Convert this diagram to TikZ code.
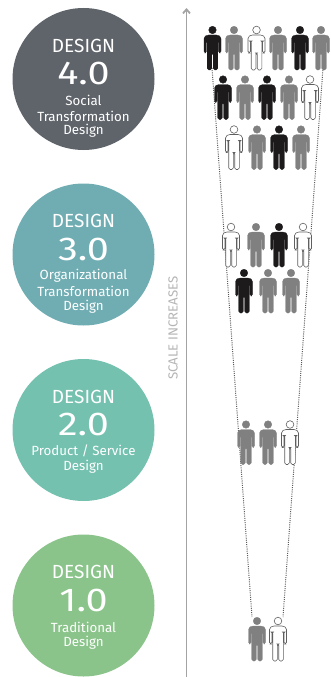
\documentclass[tikz,border=0pt]{standalone}
\usepackage{fontspec}
\setmainfont{Fira Sans}
\usetikzlibrary{arrows.meta}
\definecolor{designfour}{HTML}{5F646B}
\definecolor{designthree}{HTML}{6FADB3}
\definecolor{designtwo}{HTML}{75C1B0}
\definecolor{designone}{HTML}{8AC48A}
\definecolor{scalegrey}{HTML}{A3A3A3}
\definecolor{mangrey}{HTML}{808080}
\definecolor{manblack}{HTML}{1C1A1A}
\tikzset{
  design/.style = {circle, inner sep = 0, minimum size = 142pt},
  titletext/.style = {text = white, inner sep = 0, font = \fontsize{19}{19}\selectfont},
  numtext/.style = {text = white, inner sep = 0, xscale = 1.2, font = \fontsize{33}{33}\selectfont},
  subtext/.style = {text = white, inner sep = 0, font = \fontsize{13.3}{14}\selectfont},
  person/.pic = {
    \path [pic actions] (0,4) circle (3.8);
    \path [pic actions, rounded corners = 1.6]
      (-5.5,9) -- (5.5,9) -- (8.5,11) -- (8.5,27) -- (6.1,27) -- (6.1,15) -- (5.3,15)
      -- (5.3,44) -- (0.7,44) -- (0.7,27) -- (-0.7,27) -- (-0.7,44) -- (-5.3,44)
      -- (-5.3,15) -- (-6.1,15) -- (-6.1,27) -- (-8.5,27) -- (-8.5,11) -- cycle;
  },
  blackman/.style = {fill = manblack, draw = manblack, line width = 0.3pt},
  greyman/.style = {fill = mangrey, draw = mangrey, line width = 0.3pt},
  whiteman/.style = {fill = white, draw = manblack!70, line width = 0.6pt}
}

\begin{document}
\begin{tikzpicture}[x = 1pt, y = -1pt]
  \useasboundingbox (0,0) rectangle (331,677);
  %
  \node [design, fill = designfour] (circle4) at(83.5,79) {};
  \node [titletext] (title4) at(83.5,46) {DESIGN};
  \node [numtext] (num4) at(83.5,73.5) {4.0};
  \node [subtext] (social) at(83.5,100.5) {Social};
  \node [subtext] (transform4) at(83.5,116) {Transformation};
  \node [subtext] (sub4) at(83.5,131) {Design};
  %
  \node [design, fill = designthree] (circle3) at(83.5,254.5) {};
  \node [titletext] (title3) at(83.5,221) {DESIGN};
  \node [numtext] (num3) at(83.5,249) {3.0};
  \node [subtext] (organ) at(83.5,276) {Organizational};
  \node [subtext] (transform3) at(83.5,291) {Transformation};
  \node [subtext] (sub3) at(83.5,306.5) {Design};
  %
  \node [design, fill = designtwo] (circle2) at(83.5,430) {};
  \node [titletext] (title2) at(83.5,397) {DESIGN};
  \node [numtext] (num2) at(83.5,424.5) {2.0};
  \node [subtext] (product) at(83.5,451) {Product / Service};
  \node [subtext] (sub2) at(83.5,467) {Design};
  %
  \node [design, fill = designone] (circle1) at(83.5,605.5) {};
  \node [titletext] (title1) at(83.5,572) {DESIGN};
  \node [numtext] (num1) at(83.5,600) {1.0};
  \node [subtext] (trad) at(83.5,627) {Traditional};
  \node [subtext] (sub1) at(83.5,643) {Design};
  %
  \coordinate (arrowfoot) at(186.5,677);
  \coordinate (arrowtip) at(186.5,8);
  \draw [scalegrey, line width = 1.8pt, -{Straight Barb[length = 4pt, width = 7pt]}] (arrowfoot) -- (arrowtip);
  \node [rotate = 90, text = scalegrey!80, inner sep = 0, font = \fontsize{13.2}{14}\selectfont] (scale) at(173,328) {SCALE INCREASES};
  %
  \coordinate (lefttop) at(212,68);
  \coordinate (leftfoot) at(252,617);
  \coordinate (righttop) at(323,68);
  \coordinate (rightfoot) at(283,617);
  \draw [mangrey!70!black, line width = 1pt, dash pattern = on 1pt off 1.2pt] (lefttop) -- (leftfoot);
  \draw [mangrey!70!black, line width = 1pt, dash pattern = on 1pt off 1.2pt] (righttop) -- (rightfoot);
  %
  \path (212.5,26) pic [blackman] {person};
  \path (234,26) pic [greyman] {person};
  \path (256.5,26) pic [whiteman] {person};
  \path (278,26) pic [greyman] {person};
  \path (300,26) pic [blackman] {person};
  \path (321,26) pic [greyman] {person};
  %
  \path (223,75.5) pic [blackman] {person};
  \path (245,75.5) pic [greyman] {person};
  \path (267,75.5) pic [blackman] {person};
  \path (289,75.5) pic [greyman] {person};
  \path (310,75.5) pic [whiteman] {person};
  %
  \path (234,125.5) pic [whiteman] {person};
  \path (257,125.5) pic [greyman] {person};
  \path (279,125.5) pic [blackman] {person};
  \path (301,125.5) pic [greyman] {person};
  %
  \path (231,223) pic [whiteman] {person};
  \path (256,223) pic [greyman] {person};
  \path (279,223) pic [blackman] {person};
  \path (303,223) pic [whiteman] {person};
  %
  \path (244,269) pic [blackman] {person};
  \path (268,269) pic [greyman] {person};
  \path (291,269) pic [greyman] {person};
  %
  \path (246,420.5) pic [greyman] {person};
  \path (268,420.5) pic [greyman] {person};
  \path (290,420.5) pic [whiteman] {person};
  %
  \path (257,617) pic [greyman] {person};
  \path (278,617) pic [whiteman] {person};
\end{tikzpicture}
\end{document}
